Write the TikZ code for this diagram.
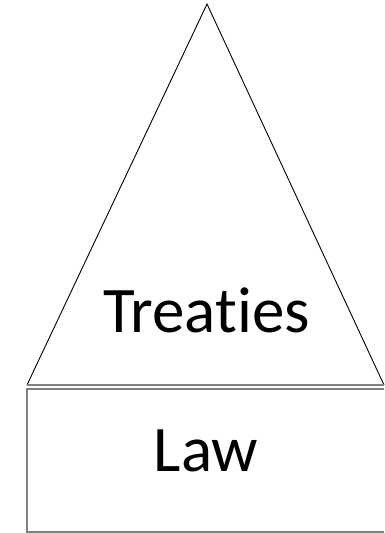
\documentclass[tikz,border=0pt]{standalone}
\usepackage{fontspec}
\setmainfont{Carlito}[Ligatures=NoCommon]
\begin{document}
\begin{tikzpicture}[x=1pt,y=-1pt,
  edge/.style={draw=black,line width=0.9pt},
  grayedge/.style={draw=black!50,line width=1.4pt},
  label/.style={font=\fontsize{65}{78}\selectfont,anchor=base,inner sep=0pt}]
\useasboundingbox (0,0) rectangle (385,533);
% pyramid apex and base corners
\coordinate (apex) at (207,4);
\coordinate (bl) at (27,385);
\coordinate (br) at (384,385);
% base block, open on the right
\draw[grayedge] (384,389) -- (27,389) -- (27,532) -- (384,532);
% triangle
\draw[edge] (bl) -- (apex) -- (br);
\draw[grayedge] (bl) -- (br);
\node[label] (treaties) at (206.5,332) {Treaties};
\node[label] (law) at (206,471) {Law};
\end{tikzpicture}
\end{document}
